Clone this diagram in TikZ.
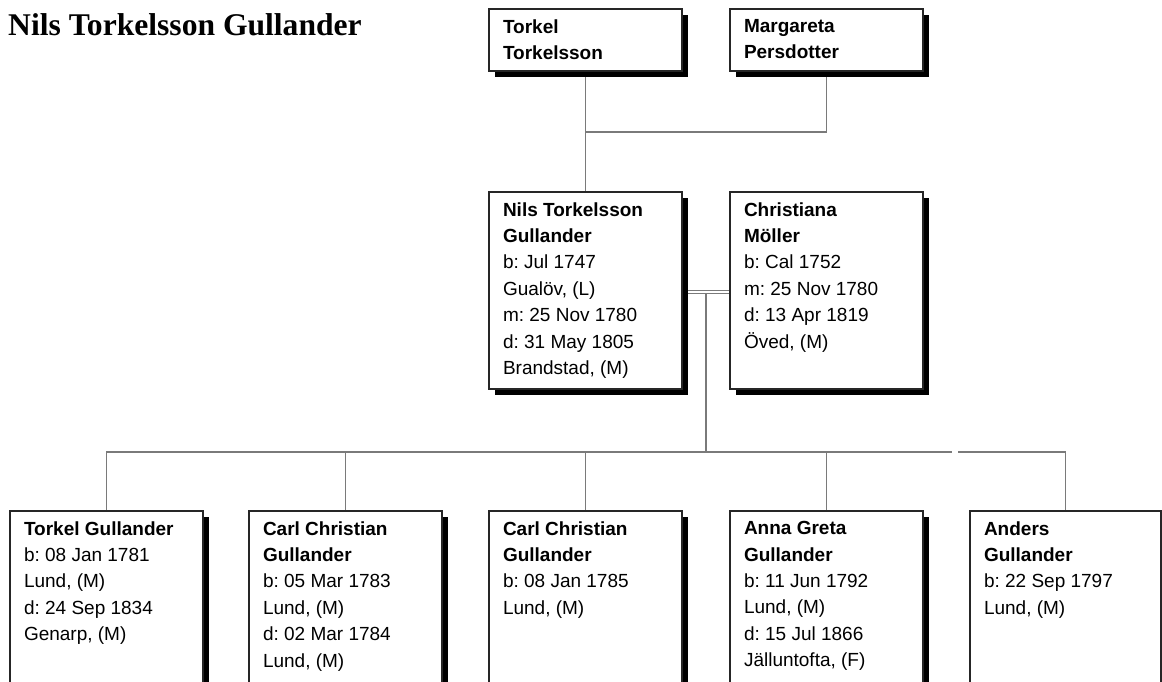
\documentclass[tikz,border=0pt]{standalone}
\usepackage{fontspec}
\setmainfont{Liberation Sans}
\newfontfamily\titlefont{Liberation Serif}
\usetikzlibrary{shadows,calc}
\frenchspacing
\pgfdeclarelayer{background}
\pgfsetlayers{background,main}
\tikzset{
  pbox/.style={draw=black!85, line width=1.2pt, fill=white, minimum width=193pt,
    anchor=north west, inner sep=0pt, outer sep=0pt,
    general shadow={fill=black, shadow xshift=6pt, shadow yshift=-6pt}},
  ptext/.style={anchor=north west, inner sep=0pt, outer sep=0pt, align=left,
    font=\frenchspacing\fontsize{19}{26.4}\selectfont},
  conn/.style={draw=black!52, line width=1.9pt},
  marr/.style={draw=black!52, line width=1.2pt, double=white, double distance=1.8pt},
}
\begin{document}
\begin{tikzpicture}[x=1pt, y=-1pt]
\useasboundingbox (0,0) rectangle (1162,681);
\clip (0,0) rectangle (1162,681);

% title
\node[anchor=base west, inner sep=0pt, font=\titlefont\bfseries\fontsize{31.6}{36}\selectfont] (title) at (8,35) {Nils Torkelsson Gullander};

% parents
\node[pbox, minimum height=62pt] (tt) at (489,9) {};
\node[ptext] (ttT) at ([xshift=14pt,yshift=-10.4pt]tt.north west) {\textbf{Torkel}\\\textbf{Torkelsson}};
\node[pbox, minimum height=62pt] (mp) at (730,9) {};
\node[ptext] (mpT) at ([xshift=14pt,yshift=-10.4pt]mp.north west) {\textbf{Margareta}\\\textbf{Persdotter}};

% couple
\node[pbox, minimum height=197pt] (nils) at (489,192) {};
\node[ptext] (nilsT) at ([xshift=14pt,yshift=-10.4pt]nils.north west) {\textbf{Nils Torkelsson}\\\textbf{Gullander}\\b: Jul 1747\\Gualöv, (L)\\m: 25 Nov 1780\\d: 31 May 1805\\Brandstad, (M)};
\node[pbox, minimum height=197pt] (chr) at (730,192) {};
\node[ptext] (chrT) at ([xshift=14pt,yshift=-10.4pt]chr.north west) {\textbf{Christiana}\\\textbf{Möller}\\b: Cal 1752\\m: 25 Nov 1780\\d: 13 Apr 1819\\Öved, (M)};

% children
\node[pbox, minimum height=220pt] (c1) at (10,511) {};
\node[ptext] (c1T) at ([xshift=14pt,yshift=-10.4pt]c1.north west) {\textbf{Torkel Gullander}\\b: 08 Jan 1781\\Lund, (M)\\d: 24 Sep 1834\\Genarp, (M)};
\node[pbox, minimum height=220pt] (c2) at (249,511) {};
\node[ptext] (c2T) at ([xshift=14pt,yshift=-10.4pt]c2.north west) {\textbf{Carl Christian}\\\textbf{Gullander}\\b: 05 Mar 1783\\Lund, (M)\\d: 02 Mar 1784\\Lund, (M)};
\node[pbox, minimum height=220pt] (c3) at (489,511) {};
\node[ptext] (c3T) at ([xshift=14pt,yshift=-10.4pt]c3.north west) {\textbf{Carl Christian}\\\textbf{Gullander}\\b: 08 Jan 1785\\Lund, (M)};
\node[pbox, minimum height=220pt] (c4) at (730,511) {};
\node[ptext] (c4T) at ([xshift=14pt,yshift=-10.4pt]c4.north west) {\textbf{Anna Greta}\\\textbf{Gullander}\\b: 11 Jun 1792\\Lund, (M)\\d: 15 Jul 1866\\Jälluntofta, (F)};
\node[pbox, minimum height=220pt, minimum width=191pt] (c5) at (970,511) {};
\node[ptext] (c5T) at ([xshift=14pt,yshift=-10.4pt]c5.north west) {\textbf{Anders}\\\textbf{Gullander}\\b: 22 Sep 1797\\Lund, (M)};

% connectors
\begin{pgfonlayer}{background}
\coordinate (pj) at (586,132);
\coordinate (cbar) at (706,452);
\coordinate (gapL) at (952,452);
\coordinate (gapR) at (958,452);
\draw[conn] (tt.south) -- (tt.south |- pj) -- (mp.south |- pj) -- (mp.south);
\draw[conn] (tt.south |- pj) -- (nils.north);
\draw[marr] ([yshift=-1.5pt]nils.east) -- ([yshift=-1.5pt]chr.west);
\coordinate (mj) at ($([yshift=-3pt]nils.east)!0.5!([yshift=-3pt]chr.west)$);
\draw[conn] (mj) -- (mj |- cbar);
\draw[conn] (c1.north) -- (c1.north |- cbar) -- (gapL);
\draw[conn] (gapR) -- (c5.north |- cbar) -- (c5.north);
\draw[conn] (c2.north) -- (c2.north |- cbar);
\draw[conn] (c3.north) -- (c3.north |- cbar);
\draw[conn] (c4.north) -- (c4.north |- cbar);
\end{pgfonlayer}
\end{tikzpicture}
\end{document}
